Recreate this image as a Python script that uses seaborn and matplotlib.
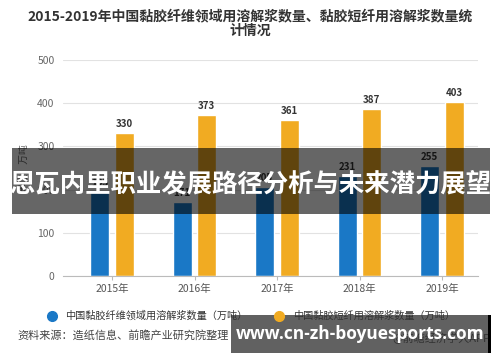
import matplotlib
matplotlib.use("Agg")
import matplotlib.pyplot as plt
from matplotlib.patches import Rectangle
from matplotlib.lines import Line2D
import seaborn as sns
import pandas as pd

years = ["2015年", "2016年", "2017年", "2018年", "2019年"]
series_names = ["中国黏胶纤维领域用溶解浆数量（万吨）", "中国黏胶短纤用溶解浆数量（万吨）"]
viscose_fiber = [195, 171, 205, 231, 255]
viscose_staple = [330, 373, 361, 387, 403]
colors = ["#1a78c6", "#f1ab22"]

title_line1 = "2015-2019年中国黏胶纤维领域用溶解浆数量、黏胶短纤用溶解浆数量统"
title_line2 = "计情况"
y_label = "单位：万吨"
source_text = "资料来源：造纸信息、前瞻产业研究院整理"
credit_text = "@前瞻经济学人APP"
banner_text = "恩瓦内里职业发展路径分析与未来潜力展望"
watermark_text = "www.cn-zh-boyuesports.com"

df = pd.DataFrame({
    "year": years * 2,
    "value": viscose_fiber + viscose_staple,
    "series": [series_names[0]] * len(years) + [series_names[1]] * len(years),
})

sns.set_theme(style="white")
plt.rcParams["font.family"] = ["Noto Sans CJK SC", "DejaVu Sans"]

fig = plt.figure(figsize=(5.0, 3.62), dpi=100)
W, H = 500.0, 362.0
ax = fig.add_axes([63 / W, (H - 276) / H, (478 - 63) / W, 216 / H])

sns.barplot(data=df, x="year", y="value", hue="series", palette=colors,
            width=0.6, gap=0.23, ax=ax, legend=False, saturation=1)

for c in ax.containers:
    ax.bar_label(c, fmt="%d", padding=3, fontsize=7, fontweight="bold", color="#333333")

ax.set_ylim(0, 500)
ax.set_xlim(-0.594, 4.436)
ax.set_yticks([0, 100, 200, 300, 400, 500])
ax.yaxis.grid(True, color="#e2e2e2", linewidth=0.8)
ax.set_axisbelow(True)
for s in ["top", "right", "left"]:
    ax.spines[s].set_visible(False)
ax.spines["bottom"].set_color("#bbbbbb")
ax.spines["bottom"].set_linewidth(0.8)
ax.tick_params(axis="y", length=0, labelsize=7.5, colors="#666666", pad=6)
ax.tick_params(axis="x", length=3, width=0.8, color="#bbbbbb", labelsize=7.5,
               labelcolor="#555555", pad=3, bottom=True)
ax.set_xlabel("")
ax.set_ylabel(y_label, fontsize=7, color="#666666")
ax.yaxis.set_label_coords(-(63 - 28) / 415, 0.5)

# title
fig.text(0.5, 1 - 16 / H, title_line1, ha="center", va="center", fontsize=10,
         fontweight="bold", color="#333333")
fig.text(0.5, 1 - 31 / H, title_line2, ha="center", va="center", fontsize=10,
         fontweight="bold", color="#333333")

# legend
handles = [Line2D([0], [0], marker="o", linestyle="", markersize=7,
                  markerfacecolor=col, markeredgecolor=col) for col in colors]
fig.legend(handles, series_names, loc="center", bbox_to_anchor=(248 / W, 1 - 316 / H),
           ncol=2, frameon=False, fontsize=7.3, handletextpad=0.3, columnspacing=2.2,
           labelcolor="#333333")

# source texts
fig.text(17 / W, 1 - 335 / H, source_text, ha="left", va="center", fontsize=8,
         color="#444444", zorder=1)
fig.text(490 / W, 1 - 338 / H, credit_text, ha="right", va="center", fontsize=8,
         color="#888888", zorder=1)

# overlay banner
fig.patches.append(Rectangle((12 / W, (H - 214) / H), (490 - 12) / W, 66 / H,
                             transform=fig.transFigure, facecolor="black", alpha=0.6,
                             edgecolor="none", zorder=5))
fig.text(250 / W, 1 - 184 / H, banner_text, ha="center", va="center", fontsize=18.3,
         fontweight="bold", color="white", zorder=6)

# watermark box
fig.patches.append(Rectangle((231 / W, (H - 353) / H), (490 - 231) / W, 38 / H,
                             transform=fig.transFigure, facecolor="black", alpha=0.62,
                             edgecolor="none", zorder=5))
fig.patches.append(Rectangle((488 / W, (H - 353) / H), 3 / W, 38 / H,
                             transform=fig.transFigure, facecolor="black", alpha=1,
                             edgecolor="none", zorder=5))
fig.text(360 / W, 1 - 334 / H, watermark_text, ha="center", va="center", fontsize=12.5,
         fontweight="bold", color="white", family=["Open Sans", "DejaVu Sans"], zorder=6)

fig.savefig("out.png", dpi=100)
